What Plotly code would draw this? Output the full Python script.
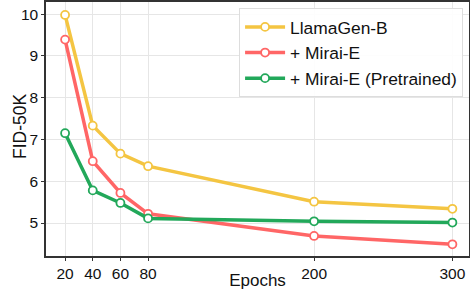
import plotly.graph_objects as go

epochs = [20, 40, 60, 80, 200, 300]
llamagen_b = [9.98, 7.33, 6.66, 6.36, 5.51, 5.34]
mirai_e = [9.39, 6.48, 5.72, 5.22, 4.69, 4.49]
mirai_e_pre = [7.15, 5.78, 5.48, 5.11, 5.04, 5.01]
names = ["LlamaGen-B", "+ Mirai-E", "+ Mirai-E (Pretrained)"]
colors = ["#F4C542", "#FF6666", "#22A85A"]
x_ticks = [20, 40, 60, 80, 200, 300]
y_ticks = [5, 6, 7, 8, 9, 10]

fig = go.Figure()
for name, ys, c in zip(names, [llamagen_b, mirai_e, mirai_e_pre], colors):
    fig.add_trace(go.Scatter(
        x=epochs, y=ys, name=name, mode="lines+markers",
        line=dict(color=c, width=3.5),
        marker=dict(size=8, color="white", line=dict(color=c, width=1.8)),
    ))

fig.update_layout(
    width=470, height=290,
    margin=dict(l=46, r=1, t=2, b=34, autoexpand=False),
    paper_bgcolor="white", plot_bgcolor="white",
    font=dict(family="Liberation Sans, Arial, sans-serif", size=15.5, color="#111"),
    legend=dict(x=0.986, y=0.976, xanchor="right", yanchor="top",
                bgcolor="rgba(255,255,255,0.9)", bordercolor="#DDDDDD", borderwidth=1,
                font=dict(size=17.4), tracegroupgap=0, itemwidth=40),
    showlegend=True,
    annotations=[dict(
        text="FID-50K", textangle=-90, xref="paper", yref="paper",
        x=0, y=0.5, xshift=-26, yshift=2, xanchor="center", yanchor="middle",
        showarrow=False, font=dict(size=17.5),
    )],
)
fig.update_xaxes(
    range=[6.2, 312], tickvals=x_ticks, ticktext=[str(t) for t in x_ticks],
    showgrid=True, gridcolor="#E6E6E6", gridwidth=1,
    showline=True, linecolor="#333", linewidth=1.5, mirror=True,
    ticks="outside", ticklen=3, tickcolor="#333",
    title=dict(text="Epochs", font=dict(size=17), standoff=0),
    zeroline=False, automargin=False,
)
fig.update_yaxes(
    range=[4.21, 10.29], tickvals=y_ticks,
    showgrid=True, gridcolor="#E6E6E6", gridwidth=1,
    showline=True, linecolor="#333", linewidth=1.5, mirror=True,
    ticks="outside", ticklen=3, tickcolor="#333",
    zeroline=False, automargin=False,
)
fig.write_html(
    "out.html",
    config={"displayModeBar": False},
    post_script="document.body.style.margin='0';document.body.style.padding='0';",
)
